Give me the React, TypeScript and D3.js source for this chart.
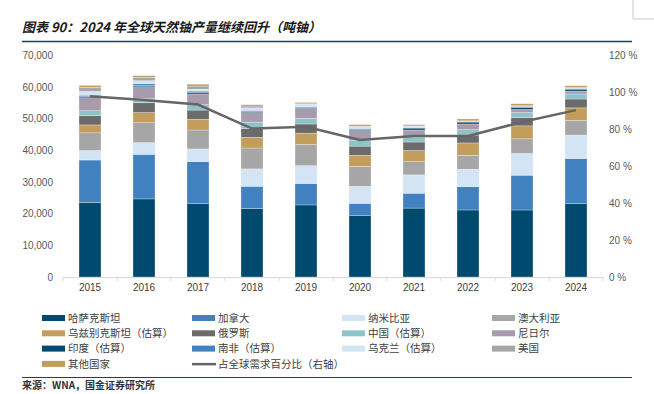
import * as d3 from "d3";
import React, { useEffect, useRef } from "react";

// 年份与各国产量（吨铀）
const years = ["2015", "2016", "2017", "2018", "2019", "2020", "2021", "2022", "2023", "2024"];
const kazakhstan = [23600, 24700, 23300, 21700, 22800, 19500, 21800, 21200, 21200, 23200];
const canada = [13400, 14100, 13200, 7000, 6800, 3800, 4700, 7400, 11000, 14300];
const namibia = [3000, 3700, 4000, 5500, 5600, 5400, 5800, 5500, 6900, 7400];
const australia = [5600, 6300, 6000, 6600, 6700, 6300, 4200, 4400, 4600, 4600];
const uzbekistan = [2500, 3200, 3400, 3400, 3600, 3500, 3500, 3900, 4100, 4000];
const russia = [2900, 3100, 2900, 2800, 2900, 2900, 2700, 2500, 2600, 2800];
const china = [1600, 1300, 1700, 2000, 1800, 1900, 1600, 1700, 1600, 1600];
const niger = [4100, 3800, 3400, 3000, 3100, 3000, 2200, 1800, 1000, 900];
const india = [400, 400, 500, 400, 300, 400, 600, 600, 600, 600];
const southAfrica = [400, 500, 400, 300, 300, 300, 200, 200, 200, 200];
const ukraine = [1200, 1000, 600, 800, 800, 700, 500, 100, 100, 100];
const usa = [1300, 1100, 1000, 600, 100, 0, 0, 100, 300, 300];
const others = [600, 500, 600, 400, 400, 500, 400, 600, 600, 500];
// 占全球需求百分比（右轴）
const demandShare = [0.98, 0.96, 0.935, 0.805, 0.815, 0.743, 0.765, 0.765, 0.84, 0.905];

const leftTicks = [0, 10000, 20000, 30000, 40000, 50000, 60000, 70000];
const rightTicks = [0, 0.2, 0.4, 0.6, 0.8, 1.0, 1.2];

const series = [
  { key: "哈萨克斯坦", values: kazakhstan, color: "#00496f" },
  { key: "加拿大", values: canada, color: "#4281bf" },
  { key: "纳米比亚", values: namibia, color: "#d3e5f5" },
  { key: "澳大利亚", values: australia, color: "#a6a6a6" },
  { key: "乌兹别克斯坦（估算）", values: uzbekistan, color: "#c39d5b" },
  { key: "俄罗斯", values: russia, color: "#6b6b6b" },
  { key: "中国（估算）", values: china, color: "#8ec3c7" },
  { key: "尼日尔", values: niger, color: "#a79bad" },
  { key: "印度（估算）", values: india, color: "#00496f" },
  { key: "南非（估算）", values: southAfrica, color: "#4281bf" },
  { key: "乌克兰（估算）", values: ukraine, color: "#d3e5f5" },
  { key: "美国", values: usa, color: "#a6a6a6" },
  { key: "其他国家", values: others, color: "#c39d5b" },
];
const lineLabel = "占全球需求百分比（右轴）";
const lineColor = "#666666";

const W = 654;
const H = 394;

const App: React.FC = () => {
  const svgRef = useRef<SVGSVGElement>(null);

  useEffect(() => {
    if (!svgRef.current) return;
    const svg = d3.select(svgRef.current);
    svg.selectAll("*").remove();

    const plot = { left: 63, right: 603, top: 55.7, bottom: 277 };
    const cjk = "'Noto Sans CJK SC', sans-serif";
    const latin = "'Liberation Sans', Arial, sans-serif";

    // corner crop mark
    svg.append("path")
      .attr("d", "M633,0V19H654")
      .attr("fill", "none")
      .attr("stroke", "#c8c8c8")
      .attr("stroke-width", 1);

    // title
    svg.append("text")
      .attr("x", 22)
      .attr("y", 32)
      .attr("font-family", cjk)
      .attr("font-size", 13)
      .attr("font-weight", "bold")
      .attr("font-style", "italic")
      .attr("fill", "#1a1a1a")
      .text("图表 90：2024 年全球天然铀产量继续回升（吨铀）");

    svg.append("line")
      .attr("x1", 22).attr("x2", 632)
      .attr("y1", 41.5).attr("y2", 41.5)
      .attr("stroke", "#1f3f5c")
      .attr("stroke-width", 1.5);

    const x = d3.scaleBand<string>()
      .domain(years)
      .range([plot.left, plot.right])
      .paddingInner(0.593)
      .paddingOuter(0.2965);

    const y = d3.scaleLinear().domain([0, 70000]).range([plot.bottom, plot.top]);
    const yR = d3.scaleLinear().domain([0, 1.2]).range([plot.bottom, plot.top]);

    const table = years.map((yr, i) => {
      const row: Record<string, number | string> = { year: yr };
      series.forEach((s) => (row[s.key] = s.values[i]));
      return row;
    });

    const stacked = d3.stack<Record<string, number | string>>()
      .keys(series.map((s) => s.key))
      .value((d, k) => d[k] as number)(table);

    // bars
    const layers = svg.append("g")
      .selectAll("g")
      .data(stacked)
      .join("g")
      .attr("fill", (d, i) => series[i].color);

    layers.selectAll("rect")
      .data((d) => d)
      .join("rect")
      .attr("x", (d) => x(d.data.year as string) || 0)
      .attr("width", x.bandwidth())
      .attr("y", (d) => y(d[1]))
      .attr("height", (d) => Math.max(0, y(d[0]) - y(d[1])))
      .attr("stroke", "#ffffff")
      .attr("stroke-opacity", 0.55)
      .attr("stroke-width", 0.5);

    // x axis
    const xAxis = svg.append("g").attr("transform", `translate(0,${plot.bottom})`);
    xAxis.append("line")
      .attr("x1", plot.left).attr("x2", plot.right)
      .attr("y1", 0.5).attr("y2", 0.5)
      .attr("stroke", "#d9d9d9");
    const half = (x.step() - x.bandwidth()) / 2;
    const bounds = years.map((yr) => (x(yr) || 0) - half).concat([plot.right]);
    xAxis.selectAll(".tick")
      .data(bounds)
      .join("line")
      .attr("x1", (d) => d).attr("x2", (d) => d)
      .attr("y1", 0).attr("y2", 4)
      .attr("stroke", "#d9d9d9");
    xAxis.selectAll("text")
      .data(years)
      .join("text")
      .attr("x", (d) => (x(d) || 0) + x.bandwidth() / 2)
      .attr("y", 14)
      .attr("text-anchor", "middle")
      .attr("font-family", latin)
      .attr("font-size", 10)
      .attr("fill", "#404040")
      .text((d) => d);

    // left axis labels
    svg.append("g")
      .selectAll("text")
      .data(leftTicks)
      .join("text")
      .attr("x", 53)
      .attr("y", (d) => y(d))
      .attr("dy", "0.35em")
      .attr("text-anchor", "end")
      .attr("font-family", latin)
      .attr("font-size", 10)
      .attr("fill", "#595959")
      .text((d) => d3.format(",")(d));

    // right axis labels
    svg.append("g")
      .selectAll("text")
      .data(rightTicks)
      .join("text")
      .attr("x", 609)
      .attr("y", (d) => yR(d))
      .attr("dy", "0.35em")
      .attr("font-family", latin)
      .attr("font-size", 10)
      .attr("fill", "#595959")
      .text((d) => `${Math.round(d * 100)} %`);

    // share line
    const line = d3.line<number>()
      .x((d, i) => (x(years[i]) || 0) + x.bandwidth() / 2)
      .y((d) => yR(d));
    svg.append("path")
      .datum(demandShare)
      .attr("fill", "none")
      .attr("stroke", lineColor)
      .attr("stroke-width", 2.5)
      .attr("d", line);

    // legend
    const legendItems = series
      .map((s) => ({ label: s.key, color: s.color, type: "bar" }))
      .concat([{ label: lineLabel, color: lineColor, type: "line" }]);
    const colX = [42, 192, 342, 492];
    const legend = svg.append("g")
      .selectAll("g")
      .data(legendItems)
      .join("g")
      .attr("transform", (d, i) => `translate(${colX[i % 4]},${318 + Math.floor(i / 4) * 15.3})`);
    legend.append("rect")
      .attr("x", 0)
      .attr("y", -3)
      .attr("width", (d) => (d.type === "line" ? 24 : 23))
      .attr("height", (d) => (d.type === "line" ? 2.5 : 6))
      .attr("transform", (d) => (d.type === "line" ? "translate(0,2)" : ""))
      .attr("fill", (d) => d.color);
    legend.append("text")
      .attr("x", 26)
      .attr("y", 0)
      .attr("dy", "0.36em")
      .attr("font-family", cjk)
      .attr("font-size", 10.5)
      .attr("fill", "#404040")
      .text((d) => d.label);

    // bottom rule and source
    svg.append("line")
      .attr("x1", 22).attr("x2", 632)
      .attr("y1", 377.5).attr("y2", 377.5)
      .attr("stroke", "#1f3f5c")
      .attr("stroke-width", 1.2);
    svg.append("text")
      .attr("x", 22)
      .attr("y", 389)
      .attr("font-family", cjk)
      .attr("font-size", 10)
      .attr("font-weight", "bold")
      .attr("fill", "#333333")
      .text("来源：WNA，国金证券研究所");
  }, []);

  return (
    <svg
      ref={svgRef}
      width={W}
      height={H}
      style={{ position: "absolute", left: 0, top: 0, background: "#ffffff" }}
    />
  );
};

export default App;
